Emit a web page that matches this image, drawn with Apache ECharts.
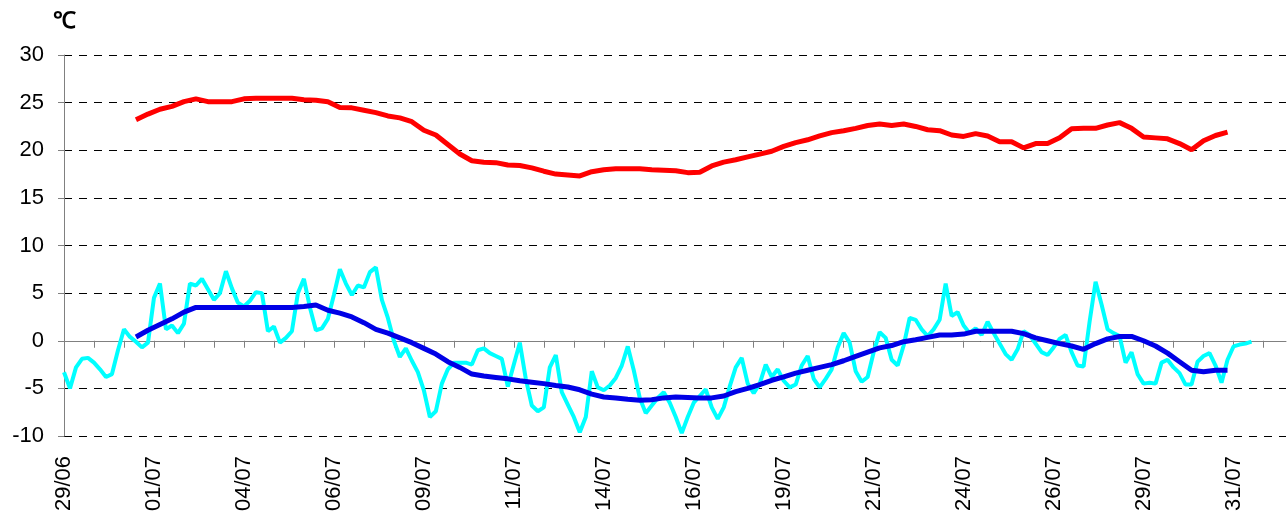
<!DOCTYPE html>
<html>
<head>
<meta charset="utf-8">
<script src="https://cdn.jsdelivr.net/npm/echarts@6/dist/echarts.min.js"></script>
<style>
  html, body { margin: 0; padding: 0; background: #fff; }
  #chart { width: 1288px; height: 522px; }
</style>
</head>
<body>
<div id="chart"></div>
<script>
// x axis is hours since 29/06 00:00
var tickLabels = ["29/06", "01/07", "04/07", "06/07", "09/07", "11/07", "14/07",
  "16/07", "19/07", "21/07", "24/07", "26/07", "29/07", "31/07"];
var labelEvery = 60;   // hours between date labels
var tickEvery = 20;    // hours between tick marks
var axisEnd = 815;

// cyan: raw reading, every 4 h from hour 0
var cyanStart = 0, cyanStep = 4;
var cyanValues = [
  -3.3, -5.0, -2.8, -1.9, -1.8, -2.3, -3.0, -3.8, -3.5, -1.0,
  1.2, 0.4, -0.1, -0.7, -0.2, 4.5, 6.0, 1.2, 1.6, 0.8,
  1.8, 6.0, 5.8, 6.5, 5.4, 4.3, 5.0, 7.3, 5.5, 4.0,
  3.6, 4.2, 5.1, 5.0, 1.0, 1.5, -0.2, 0.3, 1.0, 5.0,
  6.5, 3.5, 1.1, 1.3, 2.3, 4.8, 7.5, 6.0, 4.8, 5.8,
  5.6, 7.2, 7.7, 4.3, 2.4, 0.0, -1.7, -0.8, -2.1, -3.3,
  -5.2, -8.0, -7.4, -4.5, -3.0, -2.3, -2.3, -2.3, -2.5, -1.0,
  -0.8, -1.3, -1.6, -1.9, -4.8, -2.5, -0.2, -4.0, -6.8, -7.4,
  -7.0, -2.8, -1.5, -5.4, -6.7, -8.0, -9.6, -8.0, -3.2, -4.9,
  -5.2, -4.7, -3.9, -2.6, -0.6, -3.1, -6.0, -7.6, -6.8, -6.0,
  -5.4, -6.5, -8.0, -9.7, -8.0, -6.5, -5.8, -5.1, -7.0, -8.2,
  -7.0, -4.8, -2.8, -1.8, -4.5, -5.5, -4.5, -2.5, -3.8, -3.0,
  -4.2, -4.9, -4.6, -2.6, -1.6, -4.0, -4.9, -4.0, -3.0, -0.7,
  0.8, -0.2, -3.2, -4.3, -3.8, -1.2, 0.9, 0.3,
  -2.0, -2.6, -0.5, 2.4, 2.2, 1.2, 0.5, 1.2, 2.2, 6.0,
  2.6, 3.0, 1.6, 0.8, 1.3, 0.6, 2.0, 0.8, -0.3, -1.4,
  -2.0, -0.9, 1.0, 0.6, -0.3, -1.2, -1.5, -0.7, 0.2, 0.6,
  -1.2, -2.6, -2.7, 2.0, 6.2, 3.8, 1.2, 0.8, 0.5, -2.3,
  -1.2, -3.5, -4.5, -4.4, -4.5, -2.3, -2.0, -2.8, -3.4, -4.6,
  -4.6, -2.2, -1.6, -1.3, -2.6, -4.4, -2.0, -0.6, -0.4, -0.3,
  -0.1
];

// blue: smoothed, every 8 h from hour 48
var blueStart = 48, blueStep = 8;
var blueValues = [
  0.4, 1.1, 1.7, 2.3, 3.0, 3.5, 3.5, 3.5, 3.5, 3.5,
  3.5, 3.5, 3.5, 3.5, 3.6, 3.75, 3.2, 2.9, 2.5, 1.9,
  1.2, 0.8, 0.3, -0.2, -0.8, -1.4, -2.2, -2.8, -3.5,
  -3.7, -3.85, -4.0, -4.2, -4.35, -4.5, -4.7, -4.85, -5.15, -5.6,
  -5.9, -6.0, -6.15, -6.25, -6.2, -6.0, -5.9, -5.95, -6.0, -6.0,
  -5.8, -5.35, -5.0, -4.6, -4.15, -3.8, -3.4, -3.1, -2.8, -2.5,
  -2.1, -1.65, -1.2, -0.75,
  -0.5, -0.1, 0.1, 0.35, 0.6, 0.6, 0.7, 1.0, 1.0, 1.0,
  1.0, 0.75, 0.3, 0.0, -0.3, -0.55, -0.9, -0.3, 0.2, 0.45,
  0.45, 0.0, -0.55, -1.3, -2.2, -3.1, -3.25, -3.1, -3.1
];

// red: every 8 h from hour 48
var redStart = 48, redStep = 8;
var redValues = [
  23.2, 23.8, 24.3, 24.6, 25.1, 25.4, 25.1, 25.1, 25.1, 25.4,
  25.45, 25.45, 25.45, 25.45, 25.3, 25.25, 25.1, 24.5, 24.45, 24.2,
  23.95, 23.6, 23.4, 23.0, 22.1, 21.6, 20.6, 19.6, 18.9, 18.75, 18.7,
  18.45, 18.4, 18.15, 17.8, 17.5, 17.4, 17.3, 17.75, 17.95, 18.05,
  18.05, 18.05, 17.95, 17.9, 17.85, 17.65, 17.7, 18.35, 18.75, 19.0,
  19.3, 19.6, 19.9, 20.4, 20.8, 21.1, 21.5, 21.85, 22.05, 22.3,
  22.6, 22.75, 22.6,
  22.75, 22.5, 22.15, 22.05, 21.6, 21.45, 21.75, 21.5, 20.9, 20.9,
  20.25, 20.7, 20.7, 21.3, 22.25, 22.3, 22.3, 22.65, 22.9, 22.3,
  21.4, 21.3, 21.2, 20.7, 20.05, 21.0, 21.55, 21.9
];

function toPairs(start, step, values) {
  return values.map(function (v, i) { return [start + i * step, v]; });
}

var tickHours = [];
for (var h = 0; h <= axisEnd; h += tickEvery) tickHours.push(h);
var labelHours = tickLabels.map(function (_, i) { return i * labelEvery; });

var font = "'Liberation Sans', Arial, sans-serif";
var chart = echarts.init(document.getElementById("chart"));

chart.setOption({
  animation: false,
  backgroundColor: "#fff",
  grid: { left: 64, right: 2, top: 55, bottom: 86 },
  xAxis: {
    type: "value",
    min: 0,
    max: axisEnd,
    splitLine: { show: false },
    axisLine: { show: true, lineStyle: { color: "#808080", width: 1 } },
    axisTick: {
      show: true,
      customValues: tickHours,
      length: 7,
      lineStyle: { color: "#808080" }
    },
    axisLabel: {
      customValues: labelHours,
      rotate: 90,
      margin: 20,
      color: "#000",
      fontSize: 22,
      fontFamily: font,
      formatter: function (v) {
        return tickLabels[Math.round(v / labelEvery)];
      }
    }
  },
  yAxis: {
    type: "value",
    min: -10,
    max: 30,
    interval: 5,
    name: "℃",
    nameLocation: "end",
    nameGap: 22,
    nameTextStyle: {
      color: "#000",
      fontSize: 23,
      fontWeight: "bold",
      fontFamily: font
    },
    axisLine: { show: true, lineStyle: { color: "#808080", width: 1 } },
    axisTick: { show: true, length: 6, lineStyle: { color: "#808080" } },
    axisLabel: {
      margin: 20,
      color: "#000",
      fontSize: 22,
      fontFamily: font
    },
    splitLine: {
      show: true,
      lineStyle: { color: "#000", width: 1, type: [8, 7] }
    }
  },
  series: [
    {
      name: "red",
      type: "line",
      showSymbol: false,
      data: toPairs(redStart, redStep, redValues),
      lineStyle: { color: "#ff0000", width: 5 },
      itemStyle: { color: "#ff0000" }
    },
    {
      name: "cyan",
      type: "line",
      showSymbol: false,
      data: toPairs(cyanStart, cyanStep, cyanValues),
      lineStyle: { color: "#00ffff", width: 4 },
      itemStyle: { color: "#00ffff" }
    },
    {
      name: "blue",
      type: "line",
      showSymbol: false,
      data: toPairs(blueStart, blueStep, blueValues),
      lineStyle: { color: "#0000e6", width: 5 },
      itemStyle: { color: "#0000e6" }
    }
  ]
});
</script>
</body>
</html>
